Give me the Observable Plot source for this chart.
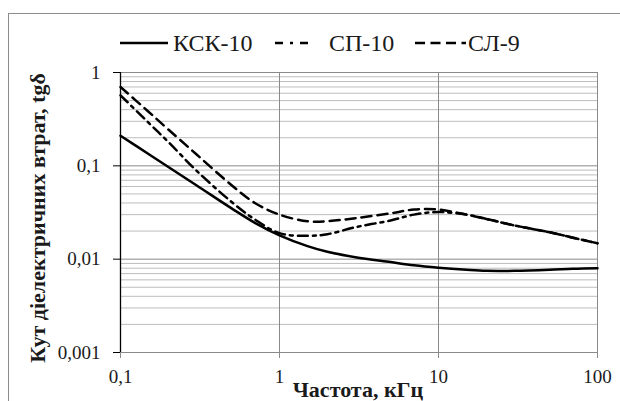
<!DOCTYPE html>
<html>
<head>
<meta charset="utf-8">
<script src="https://cdn.jsdelivr.net/npm/d3@7"></script>
<script src="https://cdn.jsdelivr.net/npm/@observablehq/plot@0.6"></script>
<style>
  body { margin: 0; background: #fff; }
  #wrap { position: relative; width: 620px; height: 401px; overflow: hidden; background: #fff;
          font-family: 'Liberation Serif', serif; color: #1a1a1a; }
  #frame { position: absolute; left: 8px; top: 13px; width: 640px; height: 420px; border: 1px solid #8c8c8c; }
  #chart { position: absolute; left: 0; top: 0; }
  #chart svg text { font-family: 'Liberation Serif', serif; }
  #legend { position: absolute; left: 0; top: 29px; height: 28px; width: 620px; font-size: 24px; }
  .item { position: absolute; top: 0; display: flex; align-items: center; height: 28px; }
  .item svg { display: block; }
  #ylabel { position: absolute; left: 38px; top: 218px; transform: translate(-50%, -50%) rotate(-90deg);
            white-space: nowrap; font-weight: bold; font-size: 22px; }
  #xlabel { position: absolute; left: 358px; top: 390px; transform: translate(-50%, -50%);
            white-space: nowrap; font-weight: bold; font-size: 22px; }
</style>
</head>
<body>
<div id="wrap">
  <div id="frame"></div>
  <div id="chart"></div>
  <div id="legend"></div>
  <div id="ylabel">Кут діелектричних втрат, tgδ</div>
  <div id="xlabel">Частота, кГц</div>
</div>
<script>
// ---- data ----
const freq = [0.1, 0.15, 0.2, 0.3, 0.5, 0.7, 1, 1.5, 2, 3, 5, 7, 10, 15, 20, 30, 50, 70, 100];
const ksk10 = [0.21, 0.134, 0.097, 0.062, 0.035, 0.0245, 0.018, 0.0138, 0.012, 0.0105, 0.0093, 0.0086, 0.0081, 0.0077, 0.0075, 0.0075, 0.0077, 0.0079, 0.008];
const sp10  = [0.57, 0.29, 0.18, 0.089, 0.041, 0.0266, 0.019, 0.0178, 0.0185, 0.022, 0.026, 0.030, 0.032, 0.030, 0.027, 0.023, 0.0194, 0.017, 0.0148];
const sl9   = [0.70, 0.38, 0.245, 0.133, 0.062, 0.040, 0.030, 0.0255, 0.0255, 0.0275, 0.031, 0.034, 0.034, 0.030, 0.027, 0.023, 0.0194, 0.017, 0.0148];
const seriesNames = ["КСК-10", "СП-10", "СЛ-9"];
const xTicks = [0.1, 1, 10, 100];
const yTicks = [0.001, 0.01, 0.1, 1];

const styles = {
  "КСК-10": {dash: null},
  "СП-10": {dash: "10,5,3,5"},
  "СЛ-9": {dash: "10,6"}
};

const seriesValues = [ksk10, sp10, sl9];
const rows = [];
seriesNames.forEach((name, i) => freq.forEach((f, j) => rows.push({series: name, f, v: seriesValues[i][j]})));

// minor grid values derived from tick decades
const minorY = [];
yTicks.slice(0, -1).forEach(d => { for (let k = 2; k <= 9; k++) minorY.push(d * k); });

const fmt = d => String(d).replace(".", ",");

const lineMarks = seriesNames.map(name =>
  Plot.line(rows.filter(r => r.series === name), {
    x: "f", y: "v", stroke: "#000", strokeWidth: 2.5,
    strokeDasharray: styles[name].dash, curve: "catmull-rom"
  })
);

const chart = Plot.plot({
  width: 620,
  height: 401,
  marginTop: 72,
  marginBottom: 49,
  marginLeft: 120,
  marginRight: 23,
  style: {background: "transparent", fontFamily: "'Liberation Serif', serif", fontSize: "19px", color: "#1a1a1a", overflow: "visible"},
  x: {type: "log", domain: [0.1, 100]},
  y: {type: "log", domain: [0.001, 1]},
  marks: [
    Plot.ruleY(minorY, {stroke: "#bdbdbd", strokeWidth: 1}),
    Plot.ruleY(yTicks.slice(1), {stroke: "#8a8a8a", strokeWidth: 1}),
    Plot.ruleX(xTicks.slice(1), {stroke: "#8a8a8a", strokeWidth: 1}),
    Plot.ruleY([0.001], {stroke: "#8a8a8a", strokeWidth: 1.2}),
    Plot.axisX({ticks: xTicks, tickFormat: fmt, tickSize: 6, tickPadding: 11, stroke: "#8a8a8a", label: null, fill: "#1a1a1a"}),
    Plot.axisY({ticks: yTicks, tickFormat: fmt, tickSize: 7, tickPadding: 13, stroke: "#000", label: null, fill: "#1a1a1a"}),
    Plot.ruleX([0.1], {stroke: "#000", strokeWidth: 1.3}),
    ...lineMarks
  ]
});
document.getElementById("chart").appendChild(chart);

// ---- legend ----
const legendLayout = [
  {name: "КСК-10", left: 120, w: 48, gap: 5},
  {name: "СП-10", left: 275, w: 40, gap: 14},
  {name: "СЛ-9", left: 415, w: 51, gap: 2}
];
const legend = document.getElementById("legend");
legendLayout.forEach(l => {
  const item = document.createElement("div");
  item.className = "item";
  item.style.left = l.left + "px";
  const sw = d3.create("svg").attr("width", l.w).attr("height", 10);
  sw.append("line").attr("x1", 0).attr("x2", l.w).attr("y1", 5).attr("y2", 5)
    .attr("stroke", "#000").attr("stroke-width", 2.6)
    .attr("stroke-dasharray", l.name === "СП-10" ? "8,7,3,7" : (styles[l.name].dash ? "10,5.5" : null));
  item.appendChild(sw.node());
  const t = document.createElement("span");
  t.textContent = l.name;
  t.style.marginLeft = l.gap + "px";
  item.appendChild(t);
  legend.appendChild(item);
});
</script>
</body>
</html>
